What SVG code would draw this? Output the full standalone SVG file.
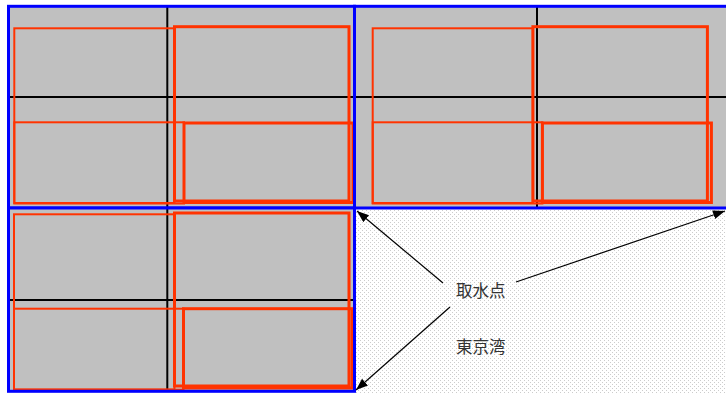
<svg xmlns="http://www.w3.org/2000/svg" width="726" height="393" viewBox="0 0 726 393">
<style>
.panel{fill:#c0c0c0;stroke:none}
.grid{stroke:#000;stroke-width:2;fill:none}
.r1{fill:none;stroke:#ff3300;stroke-width:2}
.r2{fill:none;stroke:#ff3300;stroke-width:3}
.border{fill:none;stroke:#0000ff;stroke-width:3}
.conn{stroke:#000;stroke-width:1.2;fill:none}
.lbl{font-family:"Noto Sans CJK JP","Noto Sans CJK SC",sans-serif;font-size:16.5px;fill:#333}
</style>
<defs>
<pattern id="dots" width="4" height="4" patternUnits="userSpaceOnUse">
<rect width="4" height="4" fill="#ffffff"/>
<rect x="0" y="0" width="1" height="1" fill="#cccccc"/>
<rect x="2" y="2" width="1" height="1" fill="#cccccc"/>
</pattern>
<marker id="ah" markerUnits="userSpaceOnUse" markerWidth="13" markerHeight="10" refX="12" refY="4.5" orient="auto">
<path d="M0,0 L12,4.5 L0,9 z" fill="#000"/>
</marker>
</defs>
<rect width="726" height="393" fill="#ffffff"/>
<rect id="bay" x="355" y="209" width="371" height="184" fill="url(#dots)"/>

<g id="panel-top-left">
<rect class="panel" x="8.5" y="6.3" width="346" height="201.7"/>
<line class="grid" x1="167.3" y1="6.3" x2="167.3" y2="208"/>
<line class="grid" x1="8.5" y1="97" x2="354.5" y2="97"/>
<rect class="r1" x="14.3" y="28.3" width="160.2" height="174.7"/>
<rect class="r2" x="174.5" y="26.7" width="174.5" height="174.3"/>
<rect class="r1" x="14.3" y="122.3" width="169.7" height="81.2"/>
<rect class="r2" x="184" y="123" width="169" height="79.5"/>
<rect class="border" x="8.5" y="6.3" width="346" height="201.7"/>
</g>

<g id="panel-top-right">
<rect class="panel" x="354.5" y="6.3" width="375" height="201.7"/>
<line class="grid" x1="537" y1="6.3" x2="537" y2="208"/>
<line class="grid" x1="354.5" y1="97" x2="726" y2="97"/>
<rect class="r1" x="372.7" y="28.3" width="160.2" height="174.7"/>
<rect class="r2" x="532.9" y="26.7" width="174.5" height="174.3"/>
<rect class="r1" x="372.7" y="122.3" width="169.7" height="81.2"/>
<rect class="r2" x="542.4" y="123" width="169" height="79.5"/>
<rect class="border" x="354.5" y="6.3" width="380" height="201.7"/>
</g>

<g id="panel-bottom-left">
<rect class="panel" x="8.5" y="208" width="346" height="183.3"/>
<line class="grid" x1="167.3" y1="208" x2="167.3" y2="391.3"/>
<line class="grid" x1="8.5" y1="300" x2="354.5" y2="300"/>
<rect class="r1" x="14" y="214.3" width="160.5" height="175.2"/>
<rect class="r2" x="174.5" y="213" width="174.5" height="173"/>
<rect class="r1" x="14" y="308.7" width="169.5" height="81"/>
<rect class="r2" x="183.5" y="308.7" width="168.5" height="79.3"/>
<rect class="border" x="8.5" y="208" width="346" height="183.3"/>
</g>

<g id="connectors">
<line class="conn" x1="443" y1="283" x2="357" y2="211" marker-end="url(#ah)"/>
<line class="conn" x1="516" y1="282" x2="725" y2="211" marker-end="url(#ah)"/>
<line class="conn" x1="450" y1="307" x2="356" y2="390" marker-end="url(#ah)"/>
</g>

<g id="label-intake">
<text class="lbl" x="456" y="297">取水点</text>
</g>
<g id="label-bay">
<text class="lbl" x="456" y="353">東京湾</text>
</g>
</svg>
